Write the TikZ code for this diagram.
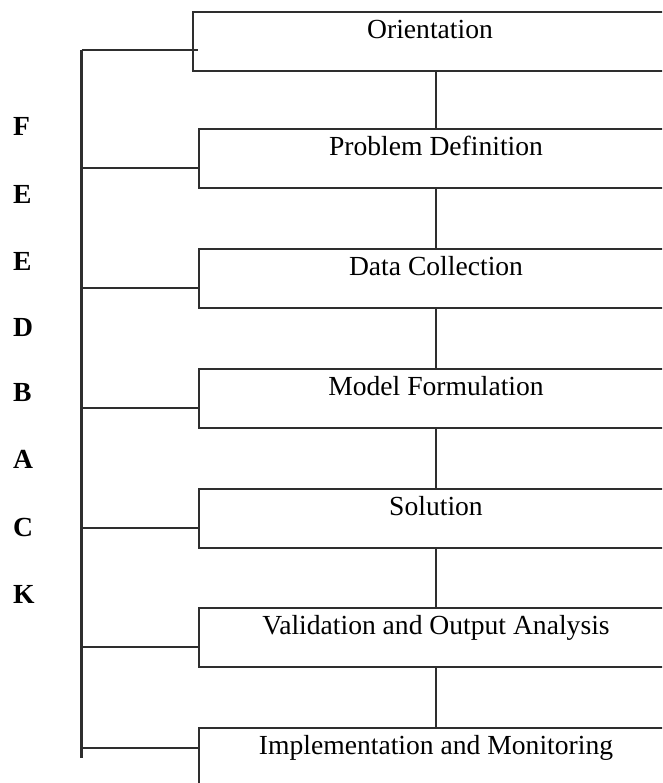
\documentclass[tikz,border=0pt]{standalone}
\usepackage{fontspec}
\setmainfont{Liberation Serif}
\begin{document}
\begin{tikzpicture}[x=1pt,y=1pt,
  linec/.style={draw=black!82, line width=2.2pt},
  box/.style={linec, rectangle, anchor=north, minimum width=474pt, minimum height=59pt,
    inner sep=0pt, text height=26.5pt, text depth=32.5pt, font=\fontsize{27.6}{30}\selectfont},
  conn/.style={linec},
  letter/.style={anchor=base west, inner sep=0pt, font=\fontsize{27.6}{30}\selectfont\bfseries}]
\useasboundingbox (0,0) rectangle (662,-783);
\clip (0,0) rectangle (662,-783);
% boxes
\node[box] (b1) at (430,-10.7) {Orientation};
\node[box] (b2) at (436,-128.3) {Problem Definition};
\node[box] (b3) at (436,-247.7) {Data Collection};
\node[box] (b4) at (436,-368) {Model Formulation};
\node[box] (b5) at (436,-487.7) {Solution};
\node[box] (b6) at (436,-606.7) {Validation and Output Analysis};
\node[box] (b7) at (436,-726.7) {Implementation and Monitoring};
% vertical links between boxes
\draw[conn] (b1.south -| b2.north) -- (b2.north);
\draw[conn] (b2.south) -- (b3.north);
\draw[conn] (b3.south) -- (b4.north);
\draw[conn] (b4.south) -- (b5.north);
\draw[conn] (b5.south) -- (b6.north);
\draw[conn] (b6.south) -- (b7.north);
% left spine
\coordinate (st) at (81.5,-50);
\coordinate (sb) at (81.5,-758.3);
\draw[linec] (st) -- (sb);
\draw[linec] (st) -- (st -| b2.north west);
\path (b2.north west) ++(0,-40) coordinate (c2);
\path (b3.north west) ++(0,-40) coordinate (c3);
\path (b4.north west) ++(0,-40) coordinate (c4);
\path (b5.north west) ++(0,-40) coordinate (c5);
\path (b6.north west) ++(0,-40.5) coordinate (c6);
\path (b7.north west) ++(0,-21.6) coordinate (c7);
\draw[linec] (c2 -| st) -- (c2);
\draw[linec] (c3 -| st) -- (c3);
\draw[linec] (c4 -| st) -- (c4);
\draw[linec] (c5 -| st) -- (c5);
\draw[linec] (c6 -| st) -- (c6);
\draw[linec] (c7 -| st) -- (c7);
% letters
\node[letter] (l1) at (13,-135.2) {F};
\node[letter] (l2) at (13,-203.5) {E};
\node[letter] (l3) at (13,-270.2) {E};
\node[letter] (l4) at (13,-336.2) {D};
\node[letter] (l5) at (13,-401.8) {B};
\node[letter] (l6) at (13,-468.5) {A};
\node[letter] (l7) at (13,-536.8) {C};
\node[letter] (l8) at (13,-603.5) {K};
\end{tikzpicture}
\end{document}
